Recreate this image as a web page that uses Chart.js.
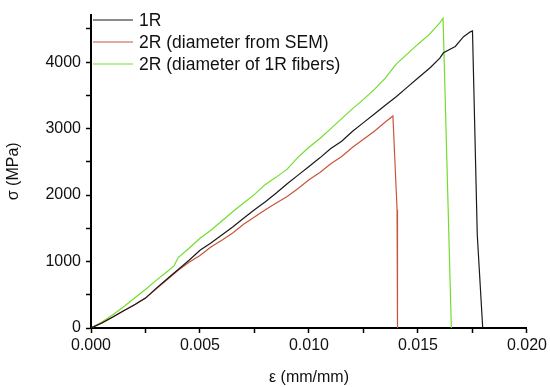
<!DOCTYPE html>
<html>
<head>
<meta charset="utf-8">
<script src="https://cdn.jsdelivr.net/npm/chart.js@4.4.1/dist/chart.umd.min.js"></script>
<style>
html,body{margin:0;padding:0;background:#fff;}
#wrap{width:550px;height:387px;position:relative;}
</style>
</head>
<body>
<div id="wrap"><canvas id="c" width="550" height="387"></canvas></div>
<script>
const seriesNames = ["1R", "2R (diameter from SEM)", "2R (diameter of 1R fibers)"];
const seriesColors = ["#1a1a1a", "#c8553a", "#72dd2a"];

const strain1R = [0,0.0005,0.0010,0.0015,0.0020,0.0025,0.0030,0.0035,0.0040,0.0045,0.0050,0.0055,0.0060,0.0065,0.0070,0.0075,0.0080,0.0085,0.0090,0.0095,0.0100,0.0105,0.0110,0.0115,0.0120,0.0125,0.0130,0.0135,0.0140,0.0145,0.0150,0.01557,0.0160,0.01617,0.01671,0.01709,0.0174,0.0175,0.01772,0.01797];
const stress1R = [0,75,165,260,350,450,600,740,880,1020,1170,1280,1400,1520,1650,1780,1900,2030,2170,2300,2430,2560,2700,2810,2960,3090,3220,3350,3480,3620,3760,3920,4060,4140,4236,4382,4455,4470,1400,0];

const strain2RSEM = [0,0.0005,0.0010,0.0015,0.0020,0.0025,0.0030,0.0035,0.0040,0.0045,0.0050,0.0055,0.0060,0.0065,0.0070,0.0075,0.0080,0.0085,0.0090,0.0095,0.0100,0.0105,0.0110,0.0115,0.0120,0.0125,0.0130,0.0135,0.01385,0.01404,0.01406];
const stress2RSEM = [0,75,165,260,350,450,590,730,870,990,1090,1220,1320,1430,1560,1670,1780,1880,1980,2100,2230,2340,2470,2580,2720,2840,2960,3100,3190,1780,0];

const strain2R1R = [0,0.0005,0.0010,0.0015,0.0020,0.0025,0.0030,0.0035,0.0038,0.0040,0.0045,0.0050,0.0055,0.0060,0.0065,0.0070,0.0075,0.0080,0.0085,0.0090,0.0095,0.0100,0.0105,0.0110,0.0115,0.0120,0.0125,0.0130,0.0135,0.0140,0.0145,0.0150,0.0155,0.0160,0.01615,0.01653];
const stress2R1R = [0,90,200,320,450,580,720,850,930,1060,1200,1350,1470,1610,1750,1880,2010,2160,2270,2390,2570,2720,2850,3000,3150,3300,3440,3590,3760,3970,4120,4270,4410,4590,4660,0];

const xTicks = [0, 0.0025, 0.005, 0.0075, 0.010, 0.0125, 0.015, 0.0175, 0.020];
const yTicks = [0,500,1000,1500,2000,2500,3000,3500,4000,4500];

function pts(xs, ys){ return xs.map((x,i)=>({x:x, y:ys[i]})); }

const FONT = "'Liberation Sans', Arial, sans-serif";

const legendPlugin = {
  id: 'insideLegend',
  afterDatasetsDraw(chart){
    const ctx = chart.ctx;
    ctx.save();
    ctx.font = "17.5px " + FONT;
    ctx.textBaseline = 'middle';
    chart.data.datasets.forEach((ds, i) => {
      const y = 20 + i * 22;
      ctx.strokeStyle = ds.borderColor;
      ctx.lineWidth = 1.2;
      ctx.beginPath();
      ctx.moveTo(93, y);
      ctx.lineTo(133, y);
      ctx.stroke();
      ctx.fillStyle = '#111';
      ctx.fillText(ds.label, 139, y + 1);
    });
    ctx.restore();
  }
};

new Chart(document.getElementById('c'), {
  type: 'scatter',
  data: {
    datasets: [
      {label: seriesNames[0], data: pts(strain1R, stress1R), borderColor: seriesColors[0]},
      {label: seriesNames[1], data: pts(strain2RSEM, stress2RSEM), borderColor: seriesColors[1]},
      {label: seriesNames[2], data: pts(strain2R1R, stress2R1R), borderColor: seriesColors[2]}
    ].map(d => Object.assign(d, {showLine: true, pointRadius: 0, borderWidth: 1.2, tension: 0, fill: false}))
  },
  options: {
    responsive: false,
    animation: false,
    layout: {padding: {left: 0, right: 23, top: 5, bottom: 0}},
    plugins: {legend: {display: false}, tooltip: {enabled: false}},
    scales: {
      x: {
        type: 'linear', min: 0, max: 0.020,
        afterBuildTicks(s){ s.ticks = xTicks.map(v => ({value: v})); },
        afterFit(s){ s.height = 59; },
        border: {color: '#000', width: 2},
        grid: {drawOnChartArea: false, drawTicks: true, tickLength: 5, tickColor: '#000', tickWidth: 1.5},
        ticks: {
          color: '#111', font: {family: FONT, size: 16}, padding: 3, maxRotation: 0, autoSkip: false,
          callback: (v) => (Math.abs(v * 1000 % 5) < 1e-6 || Math.abs(v * 1000 % 5 - 5) < 1e-6) ? v.toFixed(3) : ''
        },
        title: {display: true, text: 'ε (mm/mm)', color: '#111', font: {family: FONT, size: 16}, padding: {top: 0, bottom: 0}}
      },
      y: {
        type: 'linear', min: 0, max: 4715,
        afterBuildTicks(s){ s.ticks = yTicks.map(v => ({value: v})); },
        afterFit(s){ s.width = 91; },
        border: {color: '#000', width: 2},
        grid: {drawOnChartArea: false, drawTicks: true, tickLength: 5, tickColor: '#000', tickWidth: 1.5},
        ticks: {
          color: '#111', font: {family: FONT, size: 16}, padding: 5, autoSkip: false,
          callback: (v) => v % 1000 === 0 ? String(v) : ''
        },
        title: {display: true, text: 'σ (MPa)', color: '#111', font: {family: FONT, size: 16}, padding: {top: 4, bottom: 0}}
      }
    }
  },
  plugins: [legendPlugin]
});
</script>
</body>
</html>
